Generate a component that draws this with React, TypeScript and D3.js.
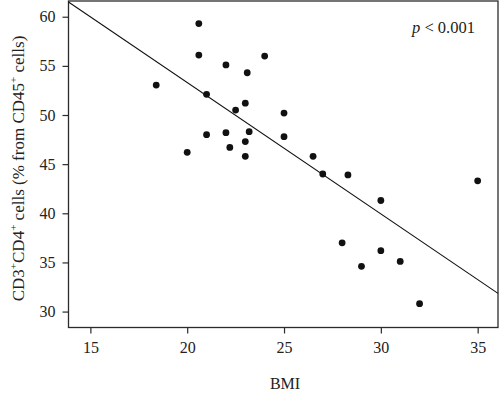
import React, { useEffect, useRef } from 'react';
import * as d3 from 'd3';

// BMI vs CD3+CD4+ share
const bmi = [
  18.4, 20.6, 20.6, 21.0, 21.0, 20.0, 22.0, 22.0, 22.2, 22.5, 23.1, 23.0, 23.0, 23.0,
  23.2, 24.0, 25.0, 25.0, 26.5, 27.0, 28.3, 35.0, 30.0, 28.0, 30.0, 29.0, 31.0, 32.0,
];
const cd4Share = [
  53.05, 59.3, 56.1, 52.1, 48.0, 46.2, 55.1, 48.2, 46.7, 50.5, 54.3, 51.2, 47.3, 45.8,
  48.3, 56.0, 50.2, 47.8, 45.8, 44.0, 43.9, 43.3, 41.3, 37.0, 36.2, 34.6, 35.1, 30.8,
];
const xTicks = [15, 20, 25, 30, 35];
const yTicks = [30, 35, 40, 45, 50, 55, 60];
const fit = { slope: -1.337, intercept: 80.05 };
const pLabel = '< 0.001';

const WIDTH = 500;
const HEIGHT = 396;
const margin = { left: 68.5, top: 1, right: 2, bottom: 68.5 };
const font = '"Liberation Serif", "DejaVu Serif", serif';
const ink = '#2b2b2b';

export default function App() {
  const axisX = useRef<SVGGElement>(null);
  const axisY = useRef<SVGGElement>(null);

  const x = d3.scaleLinear().domain([13.87, 36.05]).range([margin.left, WIDTH - margin.right]);
  const y = d3.scaleLinear().domain([28.38, 61.6]).range([HEIGHT - margin.bottom, margin.top]);
  const points = bmi.map((b, i) => ({ b, v: cd4Share[i] }));
  const [x0, x1] = x.domain();
  const line = d3.line<number>()
    .x(d => x(d))
    .y(d => y(fit.intercept + fit.slope * d));

  useEffect(() => {
    const styleAxis = (g: d3.Selection<SVGGElement, unknown, null, undefined>) => {
      g.select('.domain').remove();
      g.selectAll('line').attr('stroke', ink).attr('stroke-width', 1.2);
      g.selectAll('text')
        .attr('fill', '#222')
        .style('font-family', font)
        .style('font-size', '16px');
    };
    d3.select(axisX.current!)
      .call(d3.axisBottom(x).tickValues(xTicks).tickSize(6).tickPadding(8).tickSizeOuter(0))
      .call(styleAxis);
    d3.select(axisY.current!)
      .call(d3.axisLeft(y).tickValues(yTicks).tickSize(6).tickPadding(7).tickSizeOuter(0))
      .call(styleAxis);
  }, []);

  const plotH = HEIGHT - margin.bottom;

  return (
    <svg
      width={WIDTH}
      height={HEIGHT}
      viewBox={`0 0 ${WIDTH} ${HEIGHT}`}
      style={{ position: 'absolute', left: 0, top: 0, background: '#fff' }}
    >
      <rect x={0} y={0} width={WIDTH} height={HEIGHT} fill="#fff" />
      <g ref={axisX} transform={`translate(0, ${plotH})`} />
      <g ref={axisY} transform={`translate(${margin.left}, 0)`} />
      <rect
        x={margin.left}
        y={margin.top}
        width={WIDTH - margin.right - margin.left}
        height={plotH - margin.top}
        fill="none"
        stroke={ink}
        strokeWidth={1.3}
      />
      <path d={line([x0, x1]) || ''} fill="none" stroke="#111" strokeWidth={1.1} />
      {points.map((p, i) => (
        <circle key={i} cx={x(p.b)} cy={y(p.v)} r={3.4} fill="#111" />
      ))}
      <text x={412} y={33} fontFamily={font} fontSize={16.5} fill="#222">
        <tspan fontStyle="italic">p</tspan> {pLabel}
      </text>
      <text x={285} y={389} textAnchor="middle" fontFamily={font} fontSize={16} fill="#222">
        BMI
      </text>
      <text
        transform="translate(24, 168.5) rotate(-90)"
        textAnchor="middle"
        fontFamily={font}
        fontSize={17}
        fill="#222"
      >
        CD3<tspan fontSize={11} dy={-7}>+</tspan>
        <tspan dy={7}>CD4</tspan>
        <tspan fontSize={11} dy={-7}>+</tspan>
        <tspan dy={7}> cells (% from CD45</tspan>
        <tspan fontSize={11} dy={-7}>+</tspan>
        <tspan dy={7}> cells)</tspan>
      </text>
    </svg>
  );
}
